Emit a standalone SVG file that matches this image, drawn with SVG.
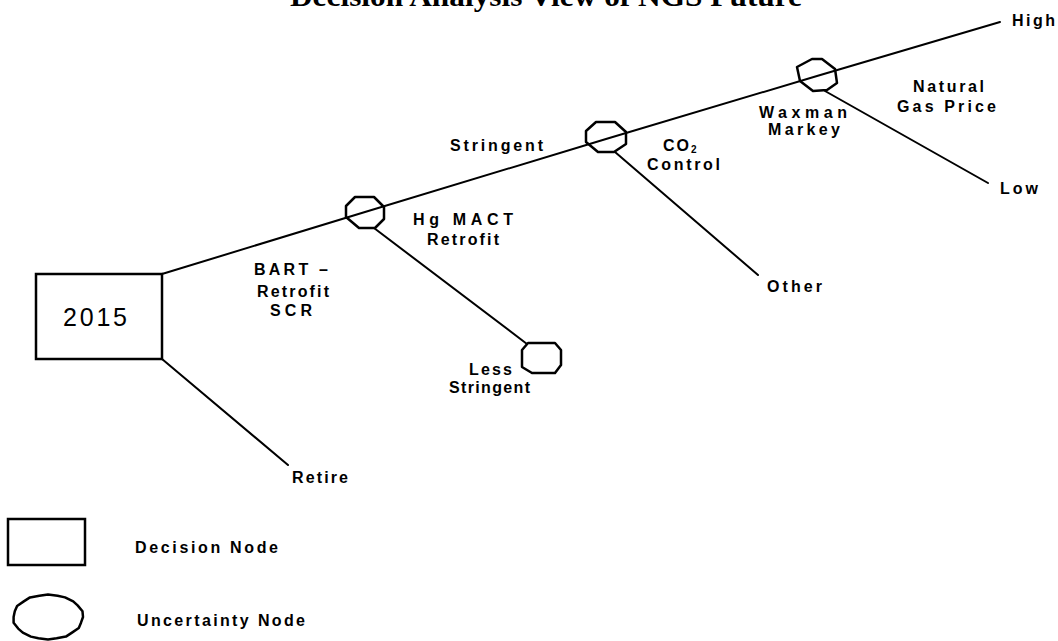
<svg xmlns="http://www.w3.org/2000/svg" width="1058" height="641" viewBox="0 0 1058 641">
  <style>
    .bg { fill: #ffffff; }
    .edge { fill: none; stroke: #000; stroke-width: 2; stroke-linecap: round; stroke-linejoin: round; }
    .decision { fill: none; stroke: #000; stroke-width: 2.5; }
    .chance { fill: none; stroke: #000; stroke-width: 2.5; stroke-linejoin: round; }
    .lbl { font-family: "Liberation Sans", Arial, sans-serif; font-weight: bold; font-size: 16px; fill: #000; }
    .year { font-family: "Liberation Sans", Arial, sans-serif; font-size: 25px; fill: #000; }
    .title { font-family: "Liberation Serif", "Times New Roman", serif; font-weight: bold; font-size: 30px; fill: #000; }
  </style>

  <rect class="bg" x="0" y="0" width="1058" height="641"/>

  <text class="title" x="290" y="6" textLength="512" lengthAdjust="spacingAndGlyphs">Decision Analysis View of NGS Future</text>

  <!-- branches of the tree -->
  <g id="connectors">
    <polyline class="edge" points="162,274 365,212 606,139 817,76 1000,22"/>
    <line class="edge" x1="162" y1="359" x2="288" y2="465"/>
    <line class="edge" x1="374" y1="228" x2="527" y2="344"/>
    <line class="edge" x1="615" y1="152" x2="758" y2="275"/>
    <line class="edge" x1="825" y1="91" x2="988" y2="183"/>
  </g>

  <!-- decision node -->
  <g id="decision-2015">
    <rect class="decision" x="36" y="274" width="126" height="85"/>
    <text class="year" x="63" y="326" textLength="64" lengthAdjust="spacing">2015</text>
  </g>

  <!-- uncertainty nodes -->
  <g id="chance-hg-mact">
    <polygon class="chance" points="355,197 374,197 384,207 384,219 375,228 359,228 346,217 346,206"/>
  </g>
  <g id="chance-co2">
    <polygon class="chance" points="596,122 615,122 626,132 626,144 614,152 598,152 586,142 586,131"/>
  </g>
  <g id="chance-gas-price">
    <polygon class="chance" points="812,59 822,59 835,69 837,83 827,90 813,91 800,81 797,67"/>
  </g>
  <g id="chance-less-stringent">
    <polygon class="chance" points="528,343 555,343 561,350 561,365 555,373 532,373 522,367 522,350"/>
  </g>

  <!-- branch labels -->
  <g id="labels">
    <text class="lbl" x="1012" y="26" textLength="43" lengthAdjust="spacing">High</text>
    <text class="lbl" x="1000" y="194" textLength="38" lengthAdjust="spacing">Low</text>
    <text class="lbl" x="913" y="92" textLength="71" lengthAdjust="spacing">Natural</text>
    <text class="lbl" x="897" y="112" textLength="99" lengthAdjust="spacing">Gas Price</text>
    <text class="lbl" x="759" y="118" textLength="88" lengthAdjust="spacing">Waxman</text>
    <text class="lbl" x="768" y="135" textLength="72" lengthAdjust="spacing">Markey</text>
    <text class="lbl" x="450" y="151" textLength="93" lengthAdjust="spacing">Stringent</text>
    <text class="lbl" x="663" y="151" letter-spacing="2">CO<tspan font-size="10" dy="2">2</tspan></text>
    <text class="lbl" x="647" y="170" textLength="73" lengthAdjust="spacing">Control</text>
    <text class="lbl" x="413" y="225" textLength="100" lengthAdjust="spacing">Hg MACT</text>
    <text class="lbl" x="427" y="245" textLength="72" lengthAdjust="spacing">Retrofit</text>
    <text class="lbl" x="469" y="375" textLength="43" lengthAdjust="spacing">Less</text>
    <text class="lbl" x="449" y="393" textLength="81" lengthAdjust="spacing">Stringent</text>
    <text class="lbl" x="254" y="275" textLength="74" lengthAdjust="spacing">BART –</text>
    <text class="lbl" x="257" y="297" textLength="72" lengthAdjust="spacing">Retrofit</text>
    <text class="lbl" x="270" y="316" textLength="42" lengthAdjust="spacing">SCR</text>
    <text class="lbl" x="292" y="483" textLength="56" lengthAdjust="spacing">Retire</text>
    <text class="lbl" x="767" y="292" textLength="55" lengthAdjust="spacing">Other</text>
  </g>

  <!-- legend -->
  <g id="legend-decision">
    <rect class="decision" x="8" y="519" width="77" height="46"/>
    <text class="lbl" x="135" y="553" textLength="143" lengthAdjust="spacing">Decision Node</text>
  </g>
  <g id="legend-uncertainty">
    <!-- hand-drawn, slightly wavy ellipse -->
    <polygon class="chance" points="83,617 81,622.7 78.8,628 72,632.6 65.9,636.6 56.6,638.3 48,639.6 38.4,638.3 30.9,636.6 22.8,632.6 18.2,628.6 13.6,622.7 13.6,617 14.8,611.3 17.1,606 23.8,601.4 30,597.4 39.4,595.7 48,594.5 57.6,595.7 65,597.4 73.2,601.4 77.6,605.4 82.5,611.3"/>
    <text class="lbl" x="137" y="626" textLength="168" lengthAdjust="spacing">Uncertainty Node</text>
  </g>
</svg>
